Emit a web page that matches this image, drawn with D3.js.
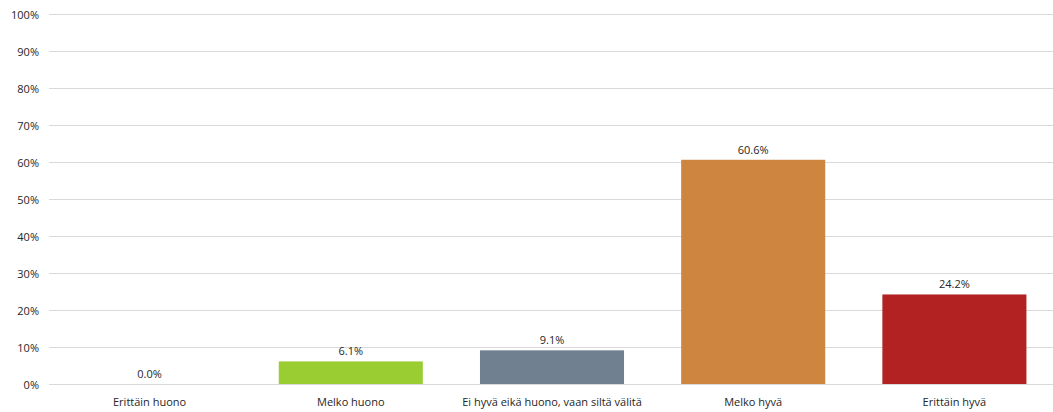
<!DOCTYPE html>
<html>
<head>
<meta charset="utf-8">
<script src="https://cdn.jsdelivr.net/npm/d3@7"></script>
<style>
  html, body { margin: 0; padding: 0; background: #fff; }
  svg text { font-family: "Open Sans", "Noto Sans", "DejaVu Sans", sans-serif; fill: #262626; }
</style>
</head>
<body>
<svg id="chart" width="1053" height="412"></svg>
<script>
const categories = ["Erittäin huono", "Melko huono", "Ei hyvä eikä huono, vaan siltä välitä", "Melko hyvä", "Erittäin hyvä"];
const values = [0.0, 6.1, 9.1, 60.6, 24.2];
const colors = ["#9acd32", "#9acd32", "#708090", "#cd853f", "#b22222"];
const yTicks = [0, 10, 20, 30, 40, 50, 60, 70, 80, 90, 100];

const svg = d3.select("#chart");
const plotLeft = 49, plotRight = 1055, plotTop = 14, plotBottom = 384;

const x = d3.scaleBand().domain(categories).range([plotLeft, plotRight])
  .paddingInner(0.284).paddingOuter(0.142);
const y = d3.scaleLinear().domain([0, 100]).range([plotBottom, plotTop]);

// horizontal gridlines
svg.append("g").selectAll("line").data(yTicks).join("line")
  .attr("x1", plotLeft).attr("x2", plotRight)
  .attr("y1", d => y(d) + 0.5).attr("y2", d => y(d) + 0.5)
  .attr("stroke", "#d9d9d9").attr("stroke-width", 1);

// y axis labels
const yAxis = d3.axisLeft(y).tickValues(yTicks).tickFormat(d => d + "%").tickSize(0).tickPadding(10);
const gy = svg.append("g").attr("transform", `translate(${plotLeft},0.5)`).call(yAxis);
gy.select(".domain").remove();
gy.selectAll("text").style("font-size", "11px").style("fill", "#262626");

// bars
svg.append("g").selectAll("rect").data(values).join("rect")
  .attr("x", (d, i) => x(categories[i]))
  .attr("width", x.bandwidth())
  .attr("y", d => y(d))
  .attr("height", d => plotBottom - y(d))
  .attr("fill", (d, i) => colors[i]);

// value labels
svg.append("g").selectAll("text").data(values).join("text")
  .attr("x", (d, i) => x(categories[i]) + x.bandwidth() / 2)
  .attr("y", d => y(d) - 6)
  .attr("text-anchor", "middle")
  .style("font-size", "11px")
  .text(d => d.toFixed(1) + "%");

// category axis
const xAxis = d3.axisBottom(x).tickSize(0).tickPadding(14);
const gx = svg.append("g").attr("transform", `translate(0,${plotBottom})`).call(xAxis);
gx.select(".domain").remove();
gx.selectAll("text").style("font-size", "11px").style("fill", "#262626");
</script>
</body>
</html>
